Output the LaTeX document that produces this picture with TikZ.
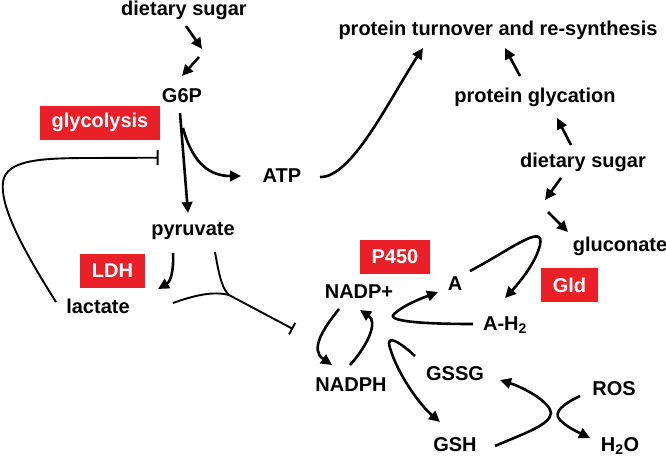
\documentclass[tikz,border=0pt]{standalone}
\usepackage{fontspec}
\setmainfont{Liberation Sans}
\usetikzlibrary{arrows.meta}
\definecolor{enzred}{RGB}{234,32,40}
\tikzset{
  lbl/.style={font=\bfseries\fontsize{20}{24}\selectfont,inner sep=0pt,anchor=base},
  enz/.style={fill=enzred,text=white,font=\bfseries\fontsize{20}{24}\selectfont,
    inner xsep=12pt,inner ysep=0pt,minimum height=34pt},
  rxn/.style={line width=2.6pt,-{Triangle[length=11pt,width=10.5pt]}},
  inh/.style={line width=1.9pt,-{Bar[width=15pt,line width=1.9pt]}},
  arc/.style={line width=1.9pt}}

\begin{document}
\begin{tikzpicture}[x=1pt,y=-1pt]
          \useasboundingbox (0,0) rectangle (666,456);

          \node[lbl] (sugarA) at (184,15) {dietary sugar};
          \node[lbl] (gsixp) at (182,102) {G6P};
          \node[lbl] (atp) at (282,182) {ATP};
          \node[lbl] (pyr) at (193,235) {pyruvate};
          \node[lbl] (lac) at (98,313) {lactate};
          \node[lbl] (turn) at (498,35) {protein turnover and re-synthesis};
          \node[lbl] (glyc) at (535,102) {protein glycation};
          \node[lbl] (sugarB) at (583,167) {dietary sugar};
          \node[lbl] (glcn) at (620,251) {gluconate};
          \node[lbl] (aox) at (455,290) {A};
          \node[lbl] (ared) at (505,330) {A-H\textsubscript{2}};
          \node[lbl] (nadpp) at (359,298) {NADP+};
          \node[lbl] (nadph) at (351,391) {NADPH};
          \node[lbl] (gssg) at (455,380) {GSSG};
          \node[lbl] (gsh) at (455,451) {GSH};
          \node[lbl] (ros) at (614,395) {ROS};
          \node[lbl] (water) at (620,451) {H\textsubscript{2}O};

          \node[enz] (glycolysis) at (100,122.5) {glycolysis};
          \node[enz] (ldh) at (112.5,270.5) {LDH};
          \node[enz] (pfourfifty) at (395,257) {P450};
          \node[enz] (gld) at (569.5,285) {Gld};

          \draw[rxn] ([shift={(2,11)}]sugarA.base) -- ([shift={(18,34)}]sugarA.base);
          \draw[rxn] ([shift={(17,-45)}]gsixp.base) -- ([shift={(0,-26)}]gsixp.base);
          \draw[rxn] ([shift={(-2,11)}]gsixp.base) -- ([shift={(-5,-22)}]pyr.base);
          \draw[rxn] ([shift={(1,26)}]gsixp.base) .. controls +(10,37) and +(-30,0) .. ([shift={(-41,-6)}]atp.base);
          \draw[rxn] ([shift={(38,-5)}]atp.base) .. controls +(32,1) and +(-33,50) .. ([shift={(-75,13)}]turn.base);

          \draw[rxn] ([shift={(-15,-26)}]glyc.base) -- ([shift={(7,13)}]turn.base);
          \draw[rxn] ([shift={(-12,-22)}]sugarB.base) -- ([shift={(22,16)}]glyc.base);
          \draw[rxn] ([shift={(-22,11)}]sugarB.base) -- ([shift={(-38,33)}]sugarB.base);
          \draw[rxn] ([shift={(-72,-39)}]glcn.base) -- ([shift={(-52,-19)}]glcn.base);

          \draw[rxn] ([shift={(15,-19)}]aox.base) .. controls (510,250) and (545,222) .. (540,245)
                     .. controls (536,262) and (520,282) .. ([shift={(0,-32)}]ared.base);
          \draw[rxn] ([shift={(-32,-6)}]ared.base) .. controls (430,324) and (385,322) .. (394,314)
                     .. controls (405,304) and (425,297) .. ([shift={(-17,2)}]aox.base);

          \draw[rxn] ([shift={(-20,11)}]nadpp.base) .. controls +(-17,21) and +(-22,-15) .. ([shift={(-19,-26)}]nadph.base);
          \draw[rxn] ([shift={(-1,-26)}]nadph.base) .. controls +(18,-20) and +(18,12) .. ([shift={(1,12)}]nadpp.base);

          \draw[rxn] ([shift={(-40,-24)}]gssg.base) .. controls (400,342) and (385,333) .. (390,348)
                     .. controls (398,375) and (420,405) .. ([shift={(-15,-29)}]gsh.base);
          \draw[rxn] ([shift={(40,-5)}]gsh.base) .. controls (525,433) and (550,425) .. (551,413)
                     .. controls (550,402) and (525,388) .. ([shift={(45,0)}]gssg.base);
          \draw[rxn] ([shift={(-34,1)}]ros.base) .. controls (565,403) and (552,412) .. (560,420)
                     .. controls (568,428) and (580,433) .. ([shift={(-30,-13)}]water.base);

          \draw[rxn] ([shift={(-20,18)}]pyr.base) .. controls +(1,19) and +(12,-7) .. ([shift={(60,-24)}]lac.base);

          \draw[inh] ([shift={(-42,-11)}]lac.base) .. controls (20,245) and (0,205) .. (3,182)
                     .. controls (6,160) and (40,158) .. (90,158) -- ([shift={(-2,18)}]glycolysis.south east);

          \coordinate (yjoin) at (229,295);
          \draw[arc] ([shift={(22,17)}]pyr.base) .. controls +(5,29) and +(-6,-6) .. (yjoin);
          \draw[arc] ([shift={(75,-10)}]lac.base) .. controls +(22,-8) and +(-15,-4) .. (yjoin);
          \draw[inh,-{Bar[width=13pt,line width=1.9pt]}] (yjoin) -- ([shift={(-66,31)}]nadpp.base);
        \end{tikzpicture}
\end{document}
